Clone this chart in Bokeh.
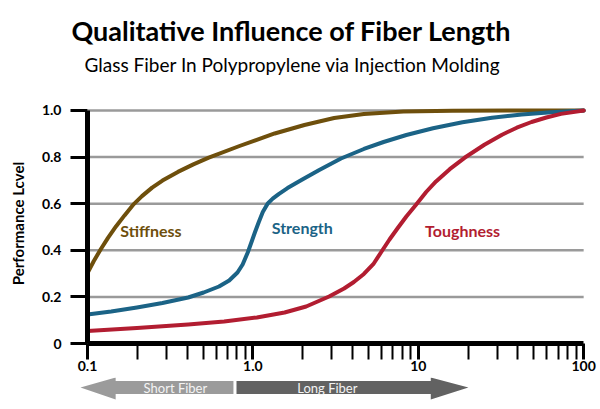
import math
from bokeh.plotting import figure
from bokeh.layouts import column
from bokeh.models import FixedTicker, Label, Range1d
from bokeh.core.properties import value
from bokeh.embed import file_html
from bokeh.resources import INLINE

# ---------------- data ----------------
title_text = "Qualitative Influence of Fiber Length"
subtitle_text = "Glass Fiber In Polypropylene via Injection Molding"
y_label = "Performance Lcvel"

x_ticks = [0.1, 1, 10, 100]
x_tick_labels = ["0.1", "1.0", "10", "100"]
x_minor_ticks = [0.2, 0.3, 0.4, 0.5, 0.6, 0.7, 0.8, 0.9,
                 2, 3, 4, 5, 6, 7, 8, 9,
                 20, 30, 40, 50, 60, 70, 80, 90]
y_ticks = [0, 0.2, 0.4, 0.6, 0.8, 1.0]
y_tick_labels = ["0", "0.2", "0.4", "0.6", "0.8", "1.0"]

stiffness_x = [0.1, 0.109, 0.1205, 0.133, 0.149, 0.1675, 0.1905, 0.2135, 0.246, 0.284,
               0.352, 0.4365, 0.541, 0.830, 1.355, 2.05, 3.10, 4.69, 8.13, 16.1, 100]
stiffness_y = [0.3026, 0.3532, 0.4056, 0.4536, 0.5034, 0.5498, 0.5983, 0.6326, 0.6691, 0.6991,
               0.7365, 0.7687, 0.7974, 0.8476, 0.9013, 0.9378, 0.9678, 0.9850, 0.9957, 0.9991, 1.0]

strength_x = [0.1, 0.139, 0.199, 0.284, 0.406, 0.504, 0.624, 0.719, 0.807, 0.867, 0.931,
              0.986, 1.028, 1.086, 1.148, 1.23, 1.318, 1.432, 1.62, 1.99, 2.52, 3.41,
              4.69, 6.17, 8.47, 12.28, 18.5, 27.9, 42.2, 63.6, 100]
strength_y = [0.1245, 0.1373, 0.1545, 0.1738, 0.1974, 0.2189, 0.2446, 0.2704, 0.3047, 0.3391,
              0.3906, 0.4399, 0.4764, 0.5215, 0.5644, 0.6009, 0.6215, 0.6412, 0.6670, 0.7039,
              0.7446, 0.7940, 0.8348, 0.8648, 0.8948, 0.9236, 0.9494, 0.9687, 0.9828, 0.9927, 1.0]

toughness_x = [0.1, 0.199, 0.406, 0.670, 1.057, 1.555, 2.10, 2.89, 3.56, 4.08, 4.69, 5.38,
               6.00, 6.70, 7.48, 8.47, 9.72, 11.16, 12.8, 15.5, 19.05, 25.1, 32.1, 39.4,
               48.4, 59.5, 73.0, 100]
toughness_y = [0.0536, 0.0665, 0.0815, 0.0944, 0.1116, 0.1330, 0.1588, 0.2017, 0.2361, 0.2639,
               0.2983, 0.3433, 0.3948, 0.4464, 0.4936, 0.5451, 0.5966, 0.6502, 0.6953, 0.7481,
               0.7970, 0.8528, 0.8961, 0.9262, 0.9506, 0.9700, 0.9854, 1.0]

series_names = ["Stiffness", "Strength", "Toughness"]
series_colors = ["#6e4f0c", "#1b6386", "#b21d31"]

fiber_classes = ["Short Fiber", "Long Fiber"]
fiber_colors = ["#9b9b9b", "#626262"]

FONT = "Lato"
W = 600
FRAME_L, FRAME_R = 87, 590
X_LO, X_HI = 0.1, 110

# ---------------- title block ----------------
pt = figure(width=W, height=90, x_range=Range1d(0, W), y_range=Range1d(90, 0),
            title=None, output_backend="svg", toolbar_location=None,
            x_axis_location=None, y_axis_location=None, frame_align=False,
            min_border_left=0, min_border_right=0, min_border_top=0, min_border_bottom=0)
pt.outline_line_color = None
pt.grid.visible = False
pt.text(x=[291], y=[30], text=[title_text], text_align="center", text_baseline="middle",
        text_font=value(FONT), text_font_style="bold", text_font_size="27px", text_color="black")
pt.text(x=[292], y=[64], text=[subtitle_text], text_align="center", text_baseline="middle",
        text_font=value(FONT), text_font_style="normal", text_font_size="19px", text_color="black")

# ---------------- main chart ----------------
p = figure(width=W, height=287, x_axis_type="log",
           x_range=Range1d(X_LO, X_HI), y_range=Range1d(0, 1.03),
           title=None, output_backend="svg", toolbar_location=None, frame_align=False,
           min_border_left=FRAME_L, min_border_right=W - FRAME_R,
           min_border_top=13, min_border_bottom=34)
p.outline_line_color = None
p.xgrid.visible = False
p.ygrid.visible = False

grid_y = [v for v in y_ticks if v > 0]
p.segment(x0=[x_ticks[0]] * len(grid_y), x1=[x_ticks[-1]] * len(grid_y),
          y0=grid_y, y1=grid_y, line_color="#9a9a9a", line_width=2.5)

for xs, ys, c in [(stiffness_x, stiffness_y, series_colors[0]),
                  (strength_x, strength_y, series_colors[1]),
                  (toughness_x, toughness_y, series_colors[2])]:
    p.line(xs, ys, line_color=c, line_width=4, line_cap="round", line_join="round")

xa = p.xaxis[0]
xa.ticker = FixedTicker(ticks=x_ticks, minor_ticks=x_minor_ticks)
xa.major_label_overrides = {t: l for t, l in zip(x_ticks, x_tick_labels)}
xa.bounds = (x_ticks[0], x_ticks[-1])
xa.axis_line_width = 5
xa.axis_line_color = "black"
xa.major_tick_in = 0
xa.major_tick_out = 16
xa.major_tick_line_width = 3
xa.minor_tick_in = 0
xa.minor_tick_out = 16
xa.minor_tick_line_width = 2
xa.major_label_standoff = 1
xa.major_label_text_font = FONT
xa.major_label_text_font_style = "bold"
xa.major_label_text_font_size = "14px"
xa.major_label_text_color = "black"

ya = p.yaxis[0]
ya.ticker = FixedTicker(ticks=y_ticks)
ya.major_label_overrides = {t: l for t, l in zip(y_ticks, y_tick_labels)}
ya.bounds = (y_ticks[0], y_ticks[-1])
ya.axis_line_width = 5
ya.axis_line_color = "black"
ya.major_tick_in = 0
ya.major_tick_out = 17
ya.major_tick_line_width = 3
ya.minor_tick_line_color = None
ya.major_label_standoff = 9
ya.major_label_text_font = FONT
ya.major_label_text_font_style = "bold"
ya.major_label_text_font_size = "14px"
ya.major_label_text_color = "black"
ya.axis_label = y_label
ya.axis_label_standoff = 12
ya.axis_label_text_font = FONT
ya.axis_label_text_font_style = "bold"
ya.axis_label_text_font_size = "15px"
ya.axis_label_text_color = "black"

label_pos = [(0.158, 0.485), (1.30, 0.497), (11.0, 0.485)]
for name, c, (lx, ly) in zip(series_names, series_colors, label_pos):
    p.add_layout(Label(x=lx, y=ly, text=name, text_align="left", text_baseline="middle",
                       text_font=FONT, text_font_style="bold", text_font_size="16px",
                       text_color=c))

# ---------------- short / long fiber arrows ----------------
dpp = (math.log10(X_HI) - math.log10(X_LO)) / (FRAME_R - FRAME_L)
xa_lo = 10 ** (math.log10(X_LO) - FRAME_L * dpp)
xa_hi = 10 ** (math.log10(X_HI) + (W - FRAME_R) * dpp)
pa = figure(width=W, height=30, x_axis_type="log",
            x_range=Range1d(xa_lo, xa_hi), y_range=Range1d(0, 30),
            title=None, output_backend="svg", toolbar_location=None,
            x_axis_location=None, y_axis_location=None, frame_align=False,
            min_border_left=0, min_border_right=0, min_border_top=0, min_border_bottom=0)
pa.outline_line_color = None
pa.grid.visible = False

yc, b_top, b_bot, h_top, h_bot = 20, 26.5, 13.5, 30, 8
short_xs = [0.0907, 0.148, 0.148, 0.763, 0.763, 0.148, 0.148]
short_ys = [yc, h_top, b_top, b_top, b_bot, b_bot, h_bot]
long_xs = [0.796, 11.9, 11.9, 20.1, 11.9, 11.9, 0.796]
long_ys = [b_top, b_top, h_top, yc, h_bot, b_bot, b_bot]
pa.patches(xs=[short_xs, long_xs], ys=[short_ys, long_ys],
           fill_color=fiber_colors, line_color=None)
pa.text(x=[0.340, 2.82], y=[yc, yc], text=fiber_classes, text_align="center",
        text_baseline="middle", text_font=value(FONT), text_font_size="13px",
        text_color="#f4f4f4")

layout = column(pt, p, pa, spacing=0)
open("out.html", "w").write(file_html(layout, INLINE))
